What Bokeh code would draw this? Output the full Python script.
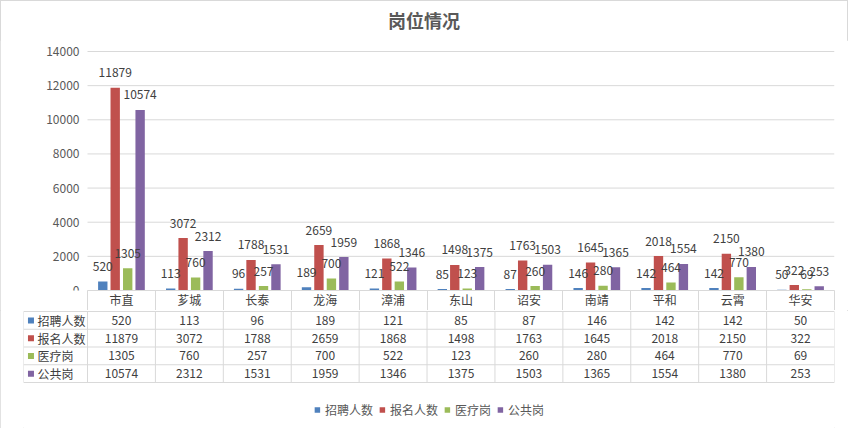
from bokeh.plotting import figure
from bokeh.models import (Range1d, LinearAxis, FixedTicker, Div, LabelSet,
                          ColumnDataSource, Legend, LegendItem)
from bokeh.transform import dodge
from bokeh.layouts import column
from bokeh.embed import file_html
from bokeh.resources import INLINE
from bokeh.core.properties import value

# ---------------- data ----------------
title_text = "岗位情况"
categories = ["市直", "芗城", "长泰", "龙海", "漳浦", "东山", "诏安", "南靖", "平和", "云霄", "华安"]
series_names = ["招聘人数", "报名人数", "医疗岗", "公共岗"]
recruit = [520, 113, 96, 189, 121, 85, 87, 146, 142, 142, 50]
applicants = [11879, 3072, 1788, 2659, 1868, 1498, 1763, 1645, 2018, 2150, 322]
medical = [1305, 760, 257, 700, 522, 123, 260, 280, 464, 770, 69]
public = [10574, 2312, 1531, 1959, 1346, 1375, 1503, 1365, 1554, 1380, 253]
y_ticks = [0, 2000, 4000, 6000, 8000, 10000, 12000, 14000]

# ---------------- style ----------------
colors = ["#4F81BD", "#C0504D", "#9BBB59", "#8064A2"]
FONT = "Noto Sans CJK SC"
GRID = "#d9d9d9"
TXT = "#404040"
AX = "#595959"
W = 848
n = len(categories)
series = [recruit, applicants, medical, public]
nr = len(series)
offsets = [-0.275, -0.092, 0.092, 0.275]
bar_w = 0.138
centers = [i + 0.5 for i in range(n)]  # slot centre of each category
L = 64 / ((834 - 87) / n)              # width of the table's label column, in category units

# ---------------- title ----------------
title = Div(text=title_text, width=W, height=40, margin=0,
            styles={"text-align": "center", "font-family": FONT, "font-size": "18px",
                    "font-weight": "bold", "color": AX, "line-height": "40px"})

# ---------------- chart ----------------
y_pad = 8 * y_ticks[-1] / 239      # 8 px of headroom so the top tick label is not clipped
pA = figure(width=W, height=270, x_range=Range1d(-L, n),
            y_range=Range1d(0, y_ticks[-1] + y_pad), x_axis_type=None, y_axis_type=None,
            title=None, output_backend="svg", toolbar_location=None,
            min_border_left=23, min_border_right=14, min_border_top=3, min_border_bottom=20)
pA.outline_line_color = None
pA.background_fill_color = "white"
pA.border_fill_color = "white"

# value gridlines + tick labels
k_t = len(y_ticks)
pA.segment(x0=[0] * k_t, y0=y_ticks, x1=[n] * k_t, y1=y_ticks, line_color=GRID, line_width=1)
tick_src = ColumnDataSource(dict(x=[0] * k_t, y=y_ticks, t=[str(t) for t in y_ticks]))
pA.add_layout(LabelSet(x="x", y="y", text="t", source=tick_src, x_offset=-8,
                       text_align="right", text_baseline="middle",
                       text_font=value(FONT), text_font_size="12px", text_color=AX))

xa = LinearAxis(ticker=FixedTicker(ticks=centers, minor_ticks=list(range(n + 1))),
                bounds=(0, n),
                major_label_overrides={c: name for c, name in zip(centers, categories)},
                major_tick_in=0, major_tick_out=0,
                minor_tick_in=0, minor_tick_out=20,
                minor_tick_line_color=GRID, axis_line_color=GRID,
                major_label_standoff=-20,
                major_label_text_font=FONT, major_label_text_font_size="12px",
                major_label_text_color=TXT)
pA.add_layout(xa, "below")

data = dict(cat=categories, xc=centers)
for k, vals in enumerate(series):
    data[f"s{k}"] = vals
    data[f"t{k}"] = [str(v) for v in vals]
src = ColumnDataSource(data)

for k in range(nr):
    pA.vbar(x=dodge("xc", offsets[k]), top=f"s{k}", width=bar_w,
            source=src, fill_color=colors[k], line_color=None)
for k in range(nr):
    pA.text(x=dodge("xc", offsets[k]), y=f"s{k}", text=f"t{k}",
            source=src, text_align="center", text_baseline="middle", y_offset=-15,
            text_font=value(FONT), text_font_size="12px", text_color=TXT)

# ---------------- data table + legend ----------------
RH = 71 / nr                    # row height in px
HB = 118
y_top = nr + 1 / RH
pB = figure(width=W, height=HB, x_range=Range1d(-L, n), y_range=Range1d(y_top - HB / RH, y_top),
            x_axis_type=None, y_axis_type=None, title=None,
            output_backend="svg", toolbar_location=None,
            min_border_left=23, min_border_right=14, min_border_top=0, min_border_bottom=0)
pB.outline_line_color = None
pB.background_fill_color = "white"
pB.border_fill_color = "white"

# table rules (from the row / column indices)
hx0 = [-L] * (nr + 1)
hx1 = [n] * (nr + 1)
hy = list(range(nr + 1))
pB.segment(x0=hx0, y0=hy, x1=hx1, y1=hy, line_color=GRID, line_width=1)
vx = [-L] + list(range(n + 1))
pB.segment(x0=vx, y0=[0] * len(vx), x1=vx, y1=[nr] * len(vx), line_color=GRID, line_width=1)

row_y = [nr - r - 0.5 for r in range(nr)]
tx, ty, tt = [], [], []
for r, vals in enumerate(series):
    for i, v in enumerate(vals):
        tx.append(centers[i])
        ty.append(row_y[r])
        tt.append(str(v))
tbl = ColumnDataSource(dict(x=tx, y=ty, t=tt))
pB.text(x="x", y="y", text="t", source=tbl, text_align="center", text_baseline="middle",
        text_font=value(FONT), text_font_size="12px", text_color=TXT)

lab = ColumnDataSource(dict(x=[-L] * nr, xs=[-L + 0.11] * nr, y=row_y,
                            name=series_names, c=colors))
pB.text(x="x", y="y", text="name", source=lab, x_offset=14, text_align="left",
        text_baseline="middle", text_font=value(FONT), text_font_size="12px",
        text_color=TXT)
keys = pB.rect(x="xs", y="y", width=6, height=6, width_units="screen", height_units="screen",
               fill_color="c", line_color=None, source=lab)

legend = Legend(items=[LegendItem(label=nm, renderers=[keys], index=k)
                       for k, nm in enumerate(series_names)],
                orientation="horizontal", location="bottom_center",
                border_line_color=None, background_fill_alpha=0,
                label_text_font=FONT, label_text_font_size="12px", label_text_color=AX,
                glyph_width=7, glyph_height=7, label_standoff=5, spacing=5,
                padding=0, margin=10)
pB.add_layout(legend)

layout = column(title, pA, pB, spacing=0,
                styles={"outline": "1px solid #d9d9d9", "outline-offset": "-1px"})

open("out.html", "w").write(file_html(layout, INLINE))
